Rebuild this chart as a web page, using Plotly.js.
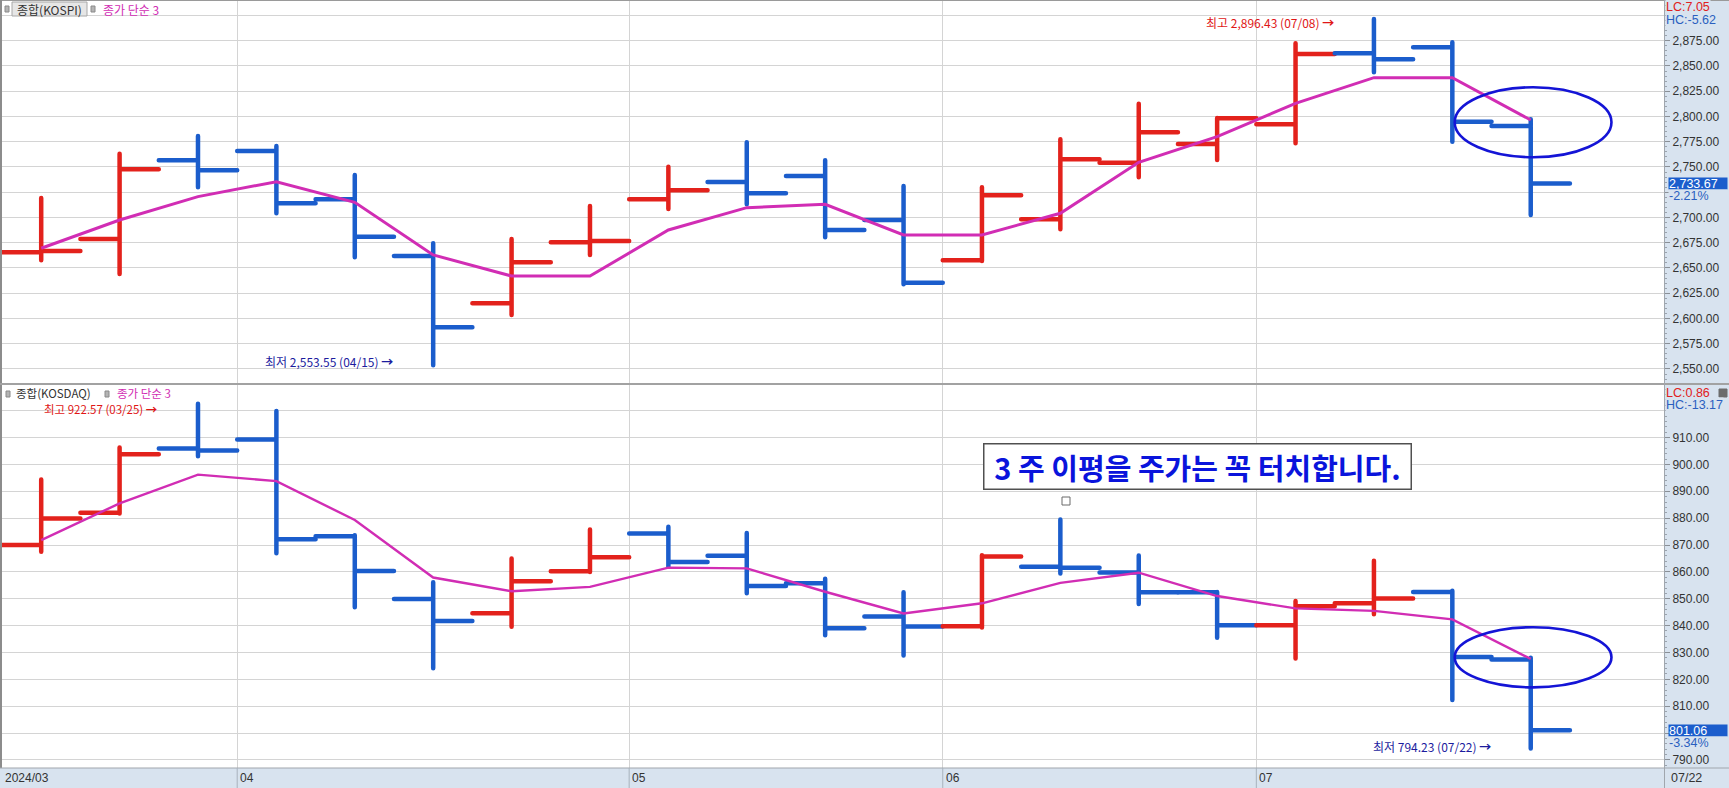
<!DOCTYPE html>
<html>
<head>
<meta charset="utf-8">
<script src="https://cdn.plot.ly/plotly-3.0.1.min.js"></script>
<style>
html,body{margin:0;padding:0;background:#ffffff;overflow:hidden;}
#chart{width:1729px;height:788px;}
.ohlclayer path{stroke-linecap:round;stroke-linejoin:round;}
</style>
</head>
<body>
<div id="chart"></div>
<script>
// ---- data (weekly bars, 2024) ----
const weeks = ['03/11','03/18','03/25','04/01','04/08','04/15','04/22','04/29','05/06','05/13',
               '05/20','05/27','06/03','06/10','06/17','06/24','07/01','07/08','07/15','07/22'];
const monthLabels = ['2024/03','04','05','06','07'];

const kospiOpen  = [2665.5,2678.7,2756.6,2765.8,2718.0,2661.9,2615.0,2675.4,2718.0,2735.1,
                    2741.0,2697.5,2657.6,2698.2,2754.2,2772.7,2792.2,2862.5,2868.5,2790.6];
const kospiHigh  = [2719.3,2763.1,2780.7,2770.8,2742.0,2674.4,2678.7,2711.4,2750.3,2774.4,
                    2756.6,2731.2,2729.9,2777.4,2812.6,2798.5,2872.4,2896.43,2873.4,2797.2];
const kospiLow   = [2657.6,2644.0,2729.9,2704.1,2660.6,2553.55,2603.5,2662.9,2708.4,2713.0,
                    2680.4,2633.8,2656.9,2688.3,2739.8,2756.9,2773.4,2843.7,2775.0,2702.4];
const kospiClose = [2666.8,2747.7,2746.7,2714.0,2681.0,2591.3,2655.6,2676.7,2726.9,2723.9,
                    2687.6,2635.4,2722.0,2757.6,2784.3,2798.2,2861.8,2856.6,2794.8,2733.67];
const kospiMA3   = [2669.5,2697.5,2720.6,2735.4,2715.0,2662.9,2642.0,2642.0,2687.6,2709.7,
                    2713.0,2682.7,2682.7,2704.1,2754.6,2780.0,2813.0,2838.4,2838.4,2796.5];

const kosdaqOpen  = [870.0,882.0,905.9,909.3,873.3,849.9,844.6,860.2,874.3,866.0,
                     855.8,843.4,839.8,861.9,859.8,852.4,840.1,848.3,852.5,827.4];
const kosdaqHigh  = [894.4,906.3,922.57,919.9,873.6,856.1,865.0,875.8,876.8,874.5,
                     857.4,852.4,866.2,879.5,866.1,852.5,849.2,864.1,853.0,828.0];
const kosdaqLow   = [867.5,881.7,903.0,866.9,846.8,824.1,839.6,860.0,861.9,852.0,
                     836.4,828.9,839.3,859.4,848.0,835.5,827.8,844.2,812.3,794.23];
const kosdaqClose = [879.9,903.8,905.2,872.1,860.3,841.7,856.5,865.4,863.7,854.7,
                     839.0,839.7,865.7,861.5,852.4,840.1,847.2,850.1,828.3,801.06];
const kosdaqMA3   = [871.8,885.5,896.2,893.8,879.3,857.9,852.8,854.4,861.6,861.3,
                     852.6,844.5,848.3,855.9,859.7,851.0,846.4,845.5,842.3,827.6];

// y-axis tick values; labels hidden behind the LC/HC and price boxes are blank
const kospiTicks  = [2550,2575,2600,2625,2650,2675,2700,2725,2750,2775,2800,2825,2850,2875,2900];
const kospiHidden = [2725,2900];
const kosdaqTicks  = [790,800,810,820,830,840,850,860,870,880,890,900,910,920];
const kosdaqHidden = [800,920];

const kospiInfo  = {name:'종합(KOSPI)',  lc:'LC:7.05', hc:'HC:-5.62',  pct:'-2.21%'};
const kosdaqInfo = {name:'종합(KOSDAQ)', lc:'LC:0.86', hc:'HC:-13.17', pct:'-3.34%'};
const maName = '종가 단순 3';
const noteText = '3 주 이평을 주가는 꼭 터치합니다.';

// ---- layout helpers ----
const W = 1729, H = 788, ML = 2, MR = 65, MT = 1, MB = 20;
const PW = W - ML - MR, PH = H - MT - MB;
const fx = p => (p - ML) / PW;
const fy = p => (H - MB - p) / PH;

const RED = '#e3221c', BLUE = '#1b5dcc', MAG = '#d12db4', NAVY = '#1c1c9e';
const BAND = '#d8e3ef', GRID = '#d4d4d4';
const KR = 'Noto Sans CJK KR, sans-serif';
const LAT = 'Liberation Sans, Arial, sans-serif';

const idx = weeks.map((_, i) => i);
const bounds = [];
weeks.forEach((w, i) => { if (i > 0 && w.slice(0,2) !== weeks[i-1].slice(0,2)) bounds.push(i - 0.5); });

const fmt = v => v.toLocaleString('en-US', {minimumFractionDigits:2, maximumFractionDigits:2});
const argmax = a => a.indexOf(Math.max(...a));
const argmin = a => a.indexOf(Math.min(...a));

function ohlcTrace(o, h, l, c, xa, ya) {
  return {type:'ohlc', x:idx, open:o, high:h, low:l, close:c, xaxis:xa, yaxis:ya,
          tickwidth:0.5, hoverinfo:'skip',
          increasing:{line:{color:RED, width:4.5}},
          decreasing:{line:{color:BLUE, width:4.5}}};
}
const traces = [
  ohlcTrace(kospiOpen, kospiHigh, kospiLow, kospiClose, 'x', 'y'),
  {type:'scatter', mode:'lines', x:idx, y:kospiMA3, xaxis:'x', yaxis:'y',
   line:{color:MAG, width:3}, hoverinfo:'skip'},
  ohlcTrace(kosdaqOpen, kosdaqHigh, kosdaqLow, kosdaqClose, 'x2', 'y2'),
  {type:'scatter', mode:'lines', x:idx, y:kosdaqMA3, xaxis:'x2', yaxis:'y2',
   line:{color:MAG, width:2.4}, hoverinfo:'skip'}
];

const xBase = {range:[-0.5, 20.7], tickvals:bounds, showticklabels:false, ticks:'',
  showgrid:true, gridcolor:GRID, gridwidth:1, zeroline:false, showline:false,
  rangeslider:{visible:false}, fixedrange:true};
const yBase = {side:'right', ticks:'outside', ticklen:5, tickcolor:'#8a8f96',
  tickfont:{family:LAT, size:12, color:'#333'}, showgrid:true, gridcolor:GRID,
  zeroline:false, showline:false, fixedrange:true, tickmode:'array'};

const shapes = [];
const line = (x0,y0,x1,y1,color,width) => shapes.push({type:'line', xref:'paper', yref:'paper',
  x0:fx(x0), y0:fy(y0), x1:fx(x1), y1:fy(y1), line:{color:color, width:width}});
const rect = (x0,y0,x1,y1,fill,lc,lw) => shapes.push({type:'rect', xref:'paper', yref:'paper',
  x0:fx(x0), y0:fy(y0), x1:fx(x1), y1:fy(y1), fillcolor:fill, line:{color:lc, width:lw}});

// frame lines
line(0, 0.5, W, 0.5, '#9a9a9a', 1);
line(1, 0, 1, 768, '#8c8c8c', 2);
line(0, 384, W, 384, '#a2a2a2', 2);
line(0, 768, W, 768, '#a0a6ad', 1);
line(1664.5, 0, 1664.5, H, '#a0a6ad', 1);
// month separators through the bottom band
bounds.forEach(b => shapes.push({type:'line', xref:'x2', yref:'paper', x0:b, x1:b,
  y0:fy(768), y1:fy(788), line:{color:'#a8b2bd', width:1}}));

// legend markers
rect(5, 6, 9, 12, '#b4b4b4', '#8a8a8a', 1);
rect(12, 2, 87, 16, '#e6e6e6', '#a8a8a8', 1);
rect(91, 6, 95, 12, '#b4b4b4', '#8a8a8a', 1);
rect(6, 391, 10, 397, '#b4b4b4', '#8a8a8a', 1);
rect(105, 391, 109, 397, '#b4b4b4', '#8a8a8a', 1);
// small markers
rect(1062, 497, 1070, 505, '#ffffff', '#6a6a6a', 1);
rect(1719, 389, 1727, 397, '#6c6c6c', '#6c6c6c', 1);

// ellipses around the last two bars
shapes.push({type:'circle', xref:'x', yref:'y', x0:18.03, x1:20.03, y0:2759.6, y1:2828.9,
  line:{color:'#1414d6', width:2.6}});
shapes.push({type:'circle', xref:'x2', yref:'y2', x0:18.03, x1:20.03, y0:817.0, y1:839.4,
  line:{color:'#1414d6', width:2.6}});

const ann = [];
const txt = (x, y, text, color, size, family, xanchor, extra) =>
  ann.push(Object.assign({xref:'paper', yref:'paper', x:fx(x), y:fy(y), text:text,
    showarrow:false, xanchor:xanchor || 'left', yanchor:'middle',
    font:{family:family || KR, size:size || 12, color:color}}, extra || {}));

// legends
txt(49.5, 9.5, kospiInfo.name, '#333', 12, KR, 'center');
txt(101, 9.5, maName, MAG, 12, KR);
txt(14, 393, kosdaqInfo.name, '#333', 11.5, KR);
txt(115, 393, maName, MAG, 11.5, KR);

// high / low labels
function hiLo(xa, ya, arr, isHigh, color, yshift, size) {
  const i = isHigh ? argmax(arr) : argmin(arr);
  ann.push({xref:xa, yref:ya, x:i, y:arr[i], xanchor:'right', yanchor:'middle',
    xshift:-38, yshift:yshift, showarrow:false,
    text:(isHigh ? '최고 ' : '최저 ') + fmt(arr[i]) + ' (' + weeks[i] + ') <b>→</b>',
    font:{family:KR, size:size || 12, color:color}});
}
hiLo('x', 'y', kospiHigh, true, '#e01616', -3.6);
hiLo('x', 'y', kospiLow, false, NAVY, 3.4);
hiLo('x2', 'y2', kosdaqHigh, true, '#e01616', -5, 11.5);
hiLo('x2', 'y2', kosdaqLow, false, NAVY, 2);

// LC / HC
const bandTxt = (y, text, color) => txt(1665, y, text, color, 12.5, LAT, 'left',
  {bgcolor:BAND, borderpad:0});
bandTxt(7.5, kospiInfo.lc, '#e02020');
bandTxt(20, kospiInfo.hc, '#2a5fc0');
bandTxt(393, kosdaqInfo.lc, '#e02020');
bandTxt(405, kosdaqInfo.hc, '#2a5fc0');

// current price boxes
function priceBox(ya, val, pct) {
  ann.push({xref:'paper', yref:ya, x:1, y:val, xanchor:'left', yanchor:'middle', xshift:4,
    showarrow:false, text:fmt(val), bgcolor:'#1b5dcc', borderpad:0, width:58, height:11,
    align:'left', font:{family:LAT, size:12.5, color:'#ffffff'}});
  ann.push({xref:'paper', yref:ya, x:1, y:val, xanchor:'left', yanchor:'middle', xshift:4,
    yshift:-12, showarrow:false, text:pct, bgcolor:BAND, borderpad:0, width:58, height:11,
    align:'left', font:{family:LAT, size:12.5, color:'#2a5fc0'}});
}
priceBox('y', kospiClose[kospiClose.length - 1], kospiInfo.pct);
priceBox('y2', kosdaqClose[kosdaqClose.length - 1], kosdaqInfo.pct);

// note box
ann.push({xref:'paper', yref:'paper', x:fx(1197), y:fy(466), xanchor:'center', yanchor:'middle',
  showarrow:false, text:'<b>' + noteText + '</b>', bgcolor:'#ffffff', bordercolor:'#505050',
  borderwidth:1.5, borderpad:2, width:422, height:40,
  font:{family:KR, size:29, color:'#0a14dc'}});

// x-axis labels
txt(3, 778, monthLabels[0], '#333', 12, LAT, 'left');
bounds.forEach((b, k) => ann.push({xref:'x2', yref:'paper', x:b, y:fy(778), xanchor:'left',
  yanchor:'middle', xshift:1, showarrow:false, text:monthLabels[k + 1],
  font:{family:LAT, size:12, color:'#333'}}));
txt(1669, 778, weeks[weeks.length - 1], '#333', 12.5, LAT, 'left');

const tickText = (vals, hidden, f) => vals.map(v => hidden.includes(v) ? '' : f(v));

const layout = {
  width:W, height:H, margin:{l:ML, r:MR, t:MT, b:MB, pad:0},
  paper_bgcolor:BAND, plot_bgcolor:'#ffffff', showlegend:false, dragmode:false,
  xaxis:Object.assign({anchor:'y', domain:[0,1]}, xBase),
  xaxis2:Object.assign({anchor:'y2', domain:[0,1]}, xBase),
  yaxis:Object.assign({anchor:'x', domain:[fy(383), 1], range:[2536.1, 2914.3],
    tickvals:kospiTicks, ticktext:tickText(kospiTicks, kospiHidden, fmt),
    minor:{dtick:5, ticks:'outside', ticklen:2, tickcolor:'#9aa3ad', showgrid:false}}, yBase),
  yaxis2:Object.assign({anchor:'x2', domain:[0, fy(385)], range:[787.0, 929.56],
    tickvals:kosdaqTicks, ticktext:tickText(kosdaqTicks, kosdaqHidden, v => v.toFixed(2)),
    minor:{dtick:2, ticks:'outside', ticklen:2, tickcolor:'#9aa3ad', showgrid:false}}, yBase),
  shapes:shapes, annotations:ann
};

Plotly.newPlot('chart', traces, layout, {displayModeBar:false, staticPlot:true});
</script>
</body>
</html>
